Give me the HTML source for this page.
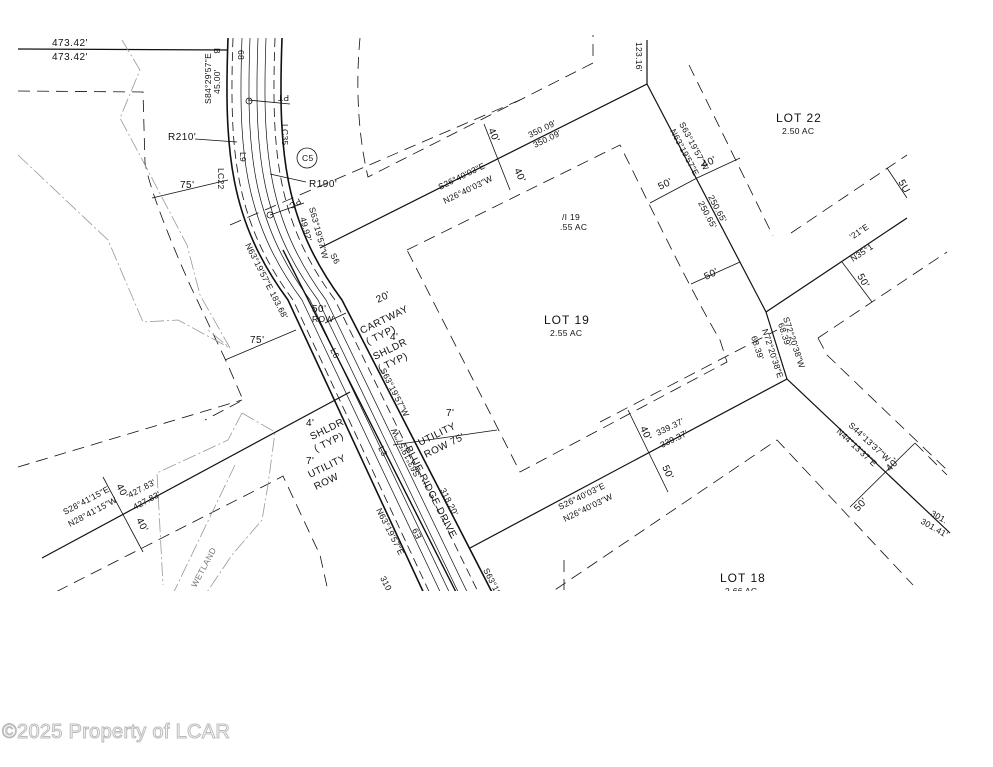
<!DOCTYPE html>
<html><head><meta charset="utf-8"><style>
html,body{margin:0;padding:0;background:#fff;}
body{width:993px;height:767px;overflow:hidden;position:relative;}
svg{position:absolute;left:0;top:0;}
text{font-family:"Liberation Sans",sans-serif;fill:#111;}
.s{font-size:8.5px;letter-spacing:0.3px}
.m{font-size:10px;letter-spacing:0.5px}
.wm{position:absolute;left:2px;top:721px;font-family:"Liberation Sans",sans-serif;font-size:20px;color:#fff;-webkit-text-stroke:1px #bbb;letter-spacing:0.3px}
</style></head><body>
<svg width="993" height="767" viewBox="0 0 993 767">
<defs><clipPath id="c"><rect x="0" y="34" width="993" height="557"/></clipPath></defs>
<g clip-path="url(#c)" fill="none" stroke="#111">
<path d="M228,38 C224,150 229,220 288,300 L427,600" stroke-width="1.6"/>
<path d="M233,38 C229,150 234,220 293,300 L433,600" stroke-width="0.8" stroke-dasharray="9,5"/>
<path d="M242,38 C238,150 243,220 302,300 L444,600" stroke-width="0.7"/>
<path d="M250,38 C246,150 251,220 310,300 L453,600" stroke-width="0.7"/>
<path d="M258,38 C254,150 259,220 318,300 L462,600" stroke-width="0.7"/>
<path d="M266,38 C262,150 267,220 326,300 L471,600" stroke-width="0.7"/>
<path d="M275,38 C271,150 276,220 335,300 L482,600" stroke-width="0.8" stroke-dasharray="9,5"/>
<path d="M282,38 C278,150 283,220 342,300 L496,600" stroke-width="1.6"/>
<path d="M283,250 L460,600" stroke-width="1.4"/>
<path d="M18,49 L228,50" stroke-width="1.2"/>
<path d="M320,248 L647,84 L647,40" stroke-width="1.2"/>
<path d="M647,84 L766,312 L787,379 L950,533" stroke-width="1.2"/>
<path d="M766,312 L907,218" stroke-width="1.2"/>
<path d="M787,379 L470,548" stroke-width="1.2"/>
<path d="M42,558 L350,392" stroke-width="1.2"/>
<g stroke-width="0.8" stroke-dasharray="12,7">
<path d="M18,91 L143,92 L145,163 C150,190 170,240 190,285 L227,363 L243,400 L205,420"/>
<path d="M18,467 L242,400"/>
<path d="M40,600 L270,483 L283,476 L320,555 L330,600"/>
<path d="M360,38 C356,80 357,130 368,177 L593,63 L593,35"/>
<path d="M230,225 L520,100"/>
<path d="M407,250 L620,145 C640,185 690,290 720,340 L727,362 L520,472 Z"/>
<path d="M689,65 L773,236"/>
<path d="M791,233 L907,155"/>
<path d="M818,338 L947,252"/>
<path d="M818,338 L827,355 L947,470"/>
<path d="M915,443 L947,475"/>
<path d="M600,422 L777,330"/>
<path d="M540,600 L777,440 L913,585"/>
<path d="M564,560 L564,590"/>
</g>
<g stroke="#999" stroke-width="0.8" stroke-dasharray="14,3,2,3">
<path d="M122,40 L140,70 L120,118 L145,165 L187,245 L200,295 L230,348 L208,330"/>
<path d="M18,155 L108,240 L143,322 L178,320 L230,348"/>
<path d="M242,413 L275,432 L268,485 L262,520 L232,555 L205,595"/>
<path d="M242,413 L228,440 L157,473 L163,585"/>
<path d="M235,465 L170,600"/>
</g>
<g stroke-width="0.8">
<path d="M152,198 L228,180"/><path d="M225,360 L296,330"/>
<path d="M195,139 L237,142"/><path d="M270,174 L306,182"/>
<path d="M248,100 L290,104"/><path d="M270,215 L304,203"/>
<path d="M484,124 L510,190"/>
<path d="M650,203 L697,178 L740,158"/>
<path d="M691,284 L740,262"/>
<path d="M887,168 L907,198"/>
<path d="M842,262 L872,302"/>
<path d="M628,410 L668,492"/>
<path d="M103,477 L143,552"/>
<path d="M850,507 L915,443"/>
<path d="M393,445 L497,430"/><path d="M325,323 L346,313"/>
</g>
<circle cx="307" cy="158" r="10" stroke-width="0.8"/>
<circle cx="249" cy="101" r="3" stroke-width="0.8"/>
<circle cx="270" cy="215" r="3" stroke-width="0.8"/>
</g>
<g clip-path="url(#c)">
<text class="m" x="52" y="46">473.42'</text>
<text class="m" x="52" y="60">473.42'</text>
<text class="s" transform="translate(214,48) rotate(90)">B</text>
<text class="s" transform="translate(211,104) rotate(-90)">S84°29'57"E</text>
<text class="s" transform="translate(220,94) rotate(-90)">45.00'</text>
<text class="s" transform="translate(238,50) rotate(90)">68</text>
<text class="s" transform="translate(289,95) rotate(180)">PT</text>
<text class="m" x="168" y="140">R210'</text>
<text class="s" transform="translate(218,168) rotate(90)">LC22</text>
<text class="s" transform="translate(282,124) rotate(90)">LC35</text>
<text class="s" x="302" y="161">C5</text>
<text class="s" transform="translate(240,152) rotate(90)">L9</text>
<text class="m" x="309" y="187">R190'</text>
<text class="s" transform="translate(299,198) rotate(150)">PC</text>
<text class="s" transform="translate(309,208) rotate(75)">S63°19'57"W</text>
<text class="s" transform="translate(300,218) rotate(75)">49.92'</text>
<text class="m" x="180" y="188">75'</text>
<text class="s" transform="translate(245,245) rotate(63)">N63°19'57"E 183.68'</text>
<text class="m" x="250" y="343">75'</text>
<text class="m" x="312" y="312">50'</text>
<text class="s" x="312" y="322">ROW</text>
<text class="m" x="378" y="303" transform="rotate(-26,378,303)">20'</text>
<text class="m" transform="translate(362,334) rotate(-26)">CARTWAY</text>
<text class="m" transform="translate(368,345) rotate(-26)">( TYP)</text>
<text class="m" x="390" y="340">4'</text>
<text class="m" transform="translate(375,360) rotate(-26)">SHLDR</text>
<text class="m" transform="translate(380,372) rotate(-26)">( TYP)</text>
<text class="s" transform="translate(380,370) rotate(63)">S63°19'57"W</text>
<text class="m" x="306" y="426">4'</text>
<text class="m" transform="translate(312,440) rotate(-26)">SHLDR</text>
<text class="m" transform="translate(316,452) rotate(-26)">( TYP)</text>
<text class="m" x="306" y="464">7'</text>
<text class="m" transform="translate(310,478) rotate(-26)">UTILITY</text>
<text class="m" transform="translate(316,490) rotate(-26)">ROW</text>
<text class="m" x="446" y="416">7'</text>
<text class="m" transform="translate(420,446) rotate(-26)">UTILITY</text>
<text class="m" transform="translate(426,458) rotate(-26)">ROW 75'</text>
<text class="s" transform="translate(440,490) rotate(63)">318.20'</text>
<text class="m" transform="translate(405,448) rotate(63)">BLUE RIDGE DRIVE</text>
<text class="s" transform="translate(420,475) rotate(243)">S63°19'57"W</text>
<text class="s" transform="translate(376,510) rotate(63)">N63°19'57"E</text>
<text class="s" transform="translate(380,578) rotate(63)">310</text>
<text class="s" transform="translate(483,570) rotate(63)">S63°19</text>
<text class="s" transform="translate(422,537) rotate(243)">E9</text>
<text class="s" transform="translate(378,448) rotate(63)">L3</text>
<text class="s" transform="translate(330,255) rotate(63)">S6</text>
<text class="s" transform="translate(330,350) rotate(63)">L6</text>
<text class="s" transform="translate(440,190) rotate(-26)">S26°40'03"E</text>
<text class="s" transform="translate(445,204) rotate(-26)">N26°40'03"W</text>
<text class="s" transform="translate(530,138) rotate(-26)">350.09'</text>
<text class="s" transform="translate(535,148) rotate(-26)">350.09'</text>
<text class="m" transform="translate(488,130) rotate(65)">40'</text>
<text class="m" transform="translate(514,170) rotate(65)">40'</text>
<text class="s" x="562" y="220">/I 19</text>
<text class="s" x="560" y="230">.55 AC</text>
<text style="font-size:12px;letter-spacing:1px" x="544" y="324">LOT 19</text>
<text class="s" x="550" y="336">2.55 AC</text>
<text style="font-size:12px;letter-spacing:1px" x="776" y="122">LOT 22</text>
<text class="s" x="782" y="134">2.50 AC</text>
<text style="font-size:12px;letter-spacing:1px" x="720" y="582">LOT 18</text>
<text class="s" x="725" y="594">2.66 AC</text>
<text class="s" transform="translate(636,42) rotate(90)">123.16'</text>
<text class="s" transform="translate(679,124) rotate(62)">S63°19'57"W</text>
<text class="s" transform="translate(670,131) rotate(62)">N63°19'57"E</text>
<text class="m" transform="translate(704,168) rotate(-26)">40'</text>
<text class="m" transform="translate(660,190) rotate(-26)">50'</text>
<text class="s" transform="translate(708,197) rotate(62)">250.65'</text>
<text class="s" transform="translate(698,203) rotate(62)">250.65'</text>
<text class="m" transform="translate(706,280) rotate(-26)">50'</text>
<text class="m" transform="translate(898,182) rotate(60)">5U</text>
<text class="s" transform="translate(852,240) rotate(-34)">'21"E</text>
<text class="s" transform="translate(853,262) rotate(-34)">N35°1</text>
<text class="m" transform="translate(857,276) rotate(60)">50'</text>
<text class="s" transform="translate(783,318) rotate(72)">S72°20'38"W</text>
<text class="s" transform="translate(778,324) rotate(72)">68.39'</text>
<text class="s" transform="translate(762,330) rotate(72)">N72°20'38"E</text>
<text class="s" transform="translate(751,337) rotate(72)">68.39'</text>
<text class="m" transform="translate(640,428) rotate(65)">40'</text>
<text class="m" transform="translate(662,467) rotate(65)">50'</text>
<text class="s" transform="translate(658,436) rotate(-26)">339.37'</text>
<text class="s" transform="translate(662,448) rotate(-26)">339.37'</text>
<text class="s" transform="translate(560,510) rotate(-26)">S26°40'03"E</text>
<text class="s" transform="translate(565,522) rotate(-26)">N26°40'03"W</text>
<text class="s" transform="translate(848,426) rotate(43)">S44°13'37"W</text>
<text class="s" transform="translate(836,432) rotate(43)">N44°13'37"E</text>
<text class="m" transform="translate(890,472) rotate(-47)">40'</text>
<text class="m" transform="translate(858,512) rotate(-47)">50'</text>
<text class="s" transform="translate(930,515) rotate(30)">301.</text>
<text class="s" transform="translate(920,523) rotate(30)">301.41'</text>
<text class="s" transform="translate(65,515) rotate(-28)">S28°41'15"E</text>
<text class="s" transform="translate(70,527) rotate(-28)">N28°41'15"W</text>
<text class="s" transform="translate(130,498) rotate(-28)">427.83'</text>
<text class="s" transform="translate(135,510) rotate(-28)">427.83'</text>
<text class="m" transform="translate(116,486) rotate(62)">40'</text>
<text class="m" transform="translate(136,520) rotate(62)">40'</text>
<text class="s" style="fill:#777" transform="translate(196,588) rotate(-62)">WETLAND</text>
</g>
</svg>
<div class="wm">©2025 Property of LCAR</div>
</body></html>
